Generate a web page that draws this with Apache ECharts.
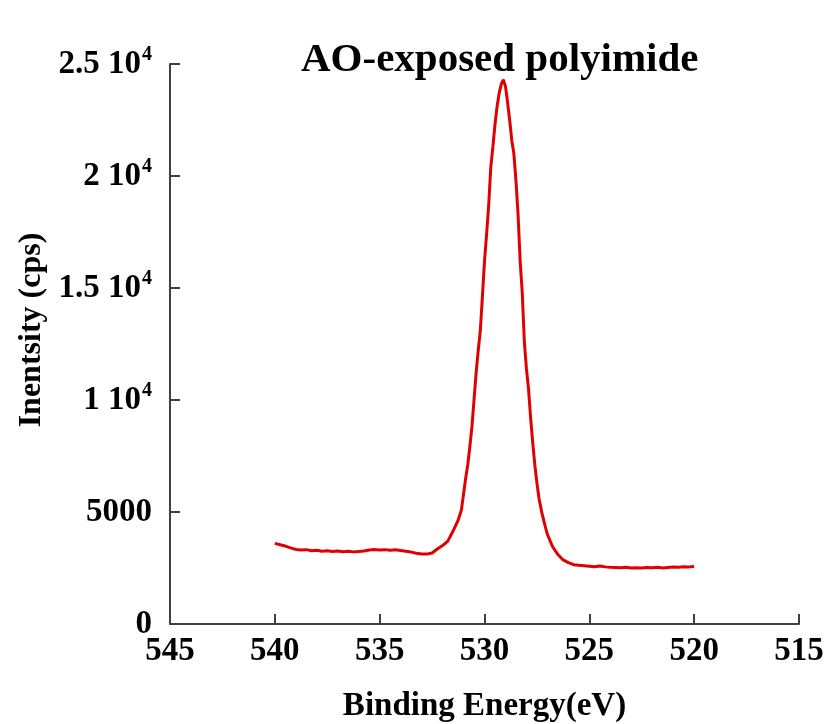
<!DOCTYPE html>
<html>
<head>
<meta charset="utf-8">
<script src="https://cdn.jsdelivr.net/npm/echarts@6/dist/echarts.min.js"></script>
<style>
  html, body { margin: 0; padding: 0; background: #ffffff; }
  #chart { width: 828px; height: 724px; }
</style>
</head>
<body>
<div id="chart"></div>
<script>
// O 1s spectrum of AO-exposed polyimide
const bindingEnergy = [
  540.0, 539.75, 539.5, 539.25, 539.0, 538.75, 538.5, 538.25, 538.0, 537.75,
  537.5, 537.25, 537.0, 536.75, 536.5, 536.25, 536.0, 535.75, 535.5, 535.25,
  535.0, 534.75, 534.5, 534.25, 534.0, 533.75, 533.5, 533.25, 533.0, 532.75,
  532.5, 532.25, 532.0, 531.75, 531.5, 531.25, 531.1, 531.0, 530.9, 530.8,
  530.7, 530.6, 530.5, 530.4, 530.3, 530.2, 530.1, 530.0, 529.9, 529.8,
  529.7, 529.6, 529.5, 529.4, 529.3, 529.2, 529.1, 529.0, 528.9, 528.8,
  528.7, 528.6, 528.5, 528.4, 528.3, 528.2, 528.1, 528.0, 527.9, 527.8,
  527.7, 527.6, 527.5, 527.4, 527.25, 527.1, 527.0, 526.75, 526.5, 526.25,
  526.0, 525.75, 525.5, 525.25, 525.0, 524.75, 524.5, 524.25, 524.0, 523.75,
  523.5, 523.25, 523.0, 522.75, 522.5, 522.25, 522.0, 521.75, 521.5, 521.25,
  521.0, 520.75, 520.5, 520.25, 520.0
];
const intensity = [
  3600, 3540, 3480, 3400, 3330, 3300, 3320, 3270, 3290, 3250,
  3270, 3240, 3260, 3230, 3250, 3220, 3240, 3260, 3300, 3330,
  3300, 3320, 3290, 3310, 3280, 3250, 3210, 3160, 3130, 3120,
  3170, 3350, 3500, 3700, 4150, 4650, 5100, 5800, 6500, 7100,
  7900, 8800, 10000, 11200, 12200, 13100, 14600, 16200, 17400, 18700,
  20400, 21300, 22300, 23100, 23700, 24100, 24300, 24000, 23300, 22500,
  21600, 21000, 19800, 18300, 16200, 14800, 12600, 11400, 10500, 9200,
  8100, 7100, 6300, 5600, 4900, 4350, 4000, 3450, 3100, 2860,
  2740, 2650, 2620, 2600, 2580, 2560, 2590, 2550, 2530, 2520,
  2510, 2530, 2500, 2510, 2500, 2520, 2510, 2530, 2500, 2520,
  2540, 2530, 2560, 2550, 2570
];
const xTicks = [545, 540, 535, 530, 525, 520, 515];
const yTicks = [0, 5000, 10000, 15000, 20000, 25000];

const serif = "'Liberation Serif', 'Times New Roman', serif";
const axisColor = '#404040';

const chart = echarts.init(document.getElementById('chart'), null, { renderer: 'canvas' });
chart.setOption({
  backgroundColor: '#ffffff',
  animation: false,
  title: {
    text: 'AO-exposed polyimide',
    left: 296,
    top: 35,
    textStyle: { fontFamily: serif, fontWeight: 'bold', fontSize: 41, color: '#000' }
  },
  grid: { left: 170, right: 29, top: 64, bottom: 100, containLabel: false, outerBoundsMode: 'none' },
  xAxis: {
    type: 'value',
    inverse: true,
    min: xTicks[xTicks.length - 1],
    max: xTicks[0],
    interval: 5,
    name: 'Binding Energy(eV)',
    nameLocation: 'middle',
    nameGap: 66,
    nameTextStyle: { fontFamily: serif, fontWeight: 'bold', fontSize: 33, color: '#000' },
    axisLine: { show: true, lineStyle: { color: axisColor, width: 2 } },
    axisTick: { show: true, inside: true, length: 10, lineStyle: { color: axisColor, width: 2 } },
    axisLabel: { margin: 11, fontFamily: serif, fontWeight: 'bold', fontSize: 33, color: '#000' },
    splitLine: { show: false }
  },
  yAxis: {
    type: 'value',
    min: yTicks[0],
    max: yTicks[yTicks.length - 1],
    interval: 5000,
    name: 'Inentsity (cps)',
    nameLocation: 'middle',
    nameGap: 116,
    nameRotate: 90,
    nameTextStyle: { fontFamily: serif, fontWeight: 'bold', fontSize: 32, color: '#000', padding: [0, 0, 0, 28] },
    axisLine: { show: true, lineStyle: { color: axisColor, width: 2 } },
    axisTick: { show: true, inside: true, length: 10, lineStyle: { color: axisColor, width: 2 } },
    axisLabel: {
      margin: 18,
      fontFamily: serif, fontWeight: 'bold', fontSize: 33, color: '#000',
      formatter: function (v) {
        if (v < 10000) return '{a|' + v + '}';
        return '{a|' + (v / 10000) + ' 10}{s|4}';
      },
      rich: {
        a: { fontFamily: serif, fontWeight: 'bold', fontSize: 33, color: '#000' },
        s: { fontFamily: serif, fontWeight: 'bold', fontSize: 20, color: '#000', padding: [0, 0, 18, 1] }
      }
    },
    splitLine: { show: false }
  },
  series: [{
    type: 'line',
    data: bindingEnergy.map((e, i) => [e, intensity[i]]),
    showSymbol: false,
    lineStyle: { color: '#e00000', width: 3 },
    smooth: false
  }]
});
</script>
</body>
</html>
